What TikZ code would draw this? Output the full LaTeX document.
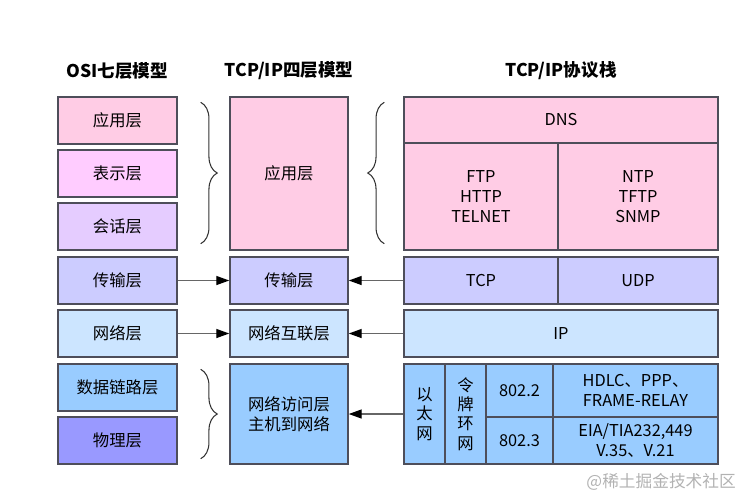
\documentclass[tikz,border=0pt]{standalone}
\usepackage{fontspec}
\setmainfont{Noto Sans CJK SC}
\usetikzlibrary{arrows.meta,decorations.pathreplacing}
\definecolor{edge}{HTML}{4E4E5A}
\definecolor{cApp}{HTML}{FFCCE5}
\definecolor{cPre}{HTML}{FFCCFF}
\definecolor{cSes}{HTML}{E5CCFF}
\definecolor{cTra}{HTML}{CCCCFF}
\definecolor{cNet}{HTML}{CCE5FF}
\definecolor{cLnk}{HTML}{99CCFF}
\definecolor{cPhy}{HTML}{9999FF}
\tikzset{
  lay/.style 2 args={draw=edge, line width=0.8pt, inner sep=0pt, align=center,
    minimum width=#1*0.02cm, minimum height=#2*0.02cm,
    font=\fontsize{9.3}{11.5}\selectfont},
  ttl/.style={font=\fontsize{10}{12}\selectfont\bfseries},
  arr/.style={-{Triangle[length=2.6mm,width=1.8mm,color=black]}, line width=0.75pt, black!60},
  brc/.style={decorate, decoration={brace,amplitude=0.33cm}, line width=0.6pt, black!80},
}

\begin{document}
\begin{tikzpicture}[x=0.02cm,y=-0.02cm]
  \useasboundingbox (0,0) rectangle (750,495);

  % titles
  \node[ttl] (tosi) at (117,71) {OSI七层模型};
  \node[ttl] (ttcp) at (289,71) {TCP/IP四层模型};
  \node[ttl] (tstk) at (561,71) {TCP/IP协议栈};

  % OSI seven layers
  \node[lay={119}{47}, fill=cApp] (oapp) at (117.5,120.5) {应用层};
  \node[lay={119}{47}, fill=cPre] (opre) at (117.5,173.5) {表示层};
  \node[lay={119}{47}, fill=cSes] (oses) at (117.5,226.5) {会话层};
  \node[lay={119}{47}, fill=cTra] (otra) at (117.5,280.5) {传输层};
  \node[lay={119}{47}, fill=cNet] (onet) at (117.5,333.5) {网络层};
  \node[lay={119}{47}, fill=cLnk] (olnk) at (117.5,387.5) {数据链路层};
  \node[lay={119}{47}, fill=cPhy] (ophy) at (117.5,440.5) {物理层};

  % TCP/IP four layers
  \node[lay={118}{153}, fill=cApp] (fapp) at (289,173.5) {应用层};
  \node[lay={118}{47}, fill=cTra] (ftra) at (289,280.5) {传输层};
  \node[lay={118}{47}, fill=cNet] (fnet) at (289,333.5) {网络互联层};
  \node[lay={118}{100}, fill=cLnk] (facc) at (289,414) {网络访问层\\主机到网络};

  % protocol stack
  \node[lay={314}{46}, fill=cApp] (sdns) at (561,120) {DNS};
  \node[lay={154}{107}, fill=cApp] (sftp) at (481,196.5) {FTP\\HTTP\\TELNET};
  \node[lay={160}{107}, fill=cApp] (sntp) at (638,196.5) {NTP\\TFTP\\SNMP};
  \node[lay={154}{47}, fill=cTra] (stcp) at (481,280.5) {TCP};
  \node[lay={160}{47}, fill=cTra] (sudp) at (638,280.5) {UDP};
  \node[lay={314}{47}, fill=cNet] (sip) at (561,333.5) {IP};
  \node[lay={41}{100}, fill=cLnk, font=\fontsize{9.3}{11}\selectfont] (seth) at (424.5,414) {以\\太\\网};
  \node[lay={41}{100}, fill=cLnk, font=\fontsize{9.3}{11}\selectfont] (stok) at (465.5,414) {令\\牌\\环\\网};
  \node[lay={67}{53}, fill=cLnk] (s8022) at (519.5,390.5) {802.2};
  \node[lay={67}{47}, fill=cLnk] (s8023) at (519.5,440.5) {802.3};
  \node[lay={165}{53}, fill=cLnk] (shdl) at (635.5,390.5) {HDLC、PPP、\\FRAME-RELAY};
  \node[lay={165}{47}, fill=cLnk] (seia) at (635.5,440.5) {EIA/TIA232,449\\V.35、V.21};

  % braces
  \draw[brc] ([xshift=0.46cm,yshift=-0.12cm]oapp.north east) -- ([xshift=0.46cm,yshift=0.14cm]oses.south east);
  \draw[brc] ([xshift=-0.38cm,yshift=0.14cm]fapp.south east -| sdns.west) -- ([xshift=-0.38cm,yshift=-0.12cm]sdns.north west);
  \draw[brc] ([xshift=0.46cm,yshift=-0.12cm]olnk.north east) -- ([xshift=0.46cm,yshift=0.12cm]ophy.south east);

  % arrows
  \draw[arr] (otra.east) -- (ftra.west);
  \draw[arr] (onet.east) -- (fnet.west);
  \draw[arr] (stcp.west) -- (ftra.east);
  \draw[arr] (sip.west) -- (fnet.east);
  \draw[arr] (seth.west) -- (facc.east);

  % watermark
  \node[text=black!30, font=\fontsize{9.5}{11}\selectfont, anchor=east] (wm) at (742,482) {@稀土掘金技术社区};
\end{tikzpicture}
\end{document}
